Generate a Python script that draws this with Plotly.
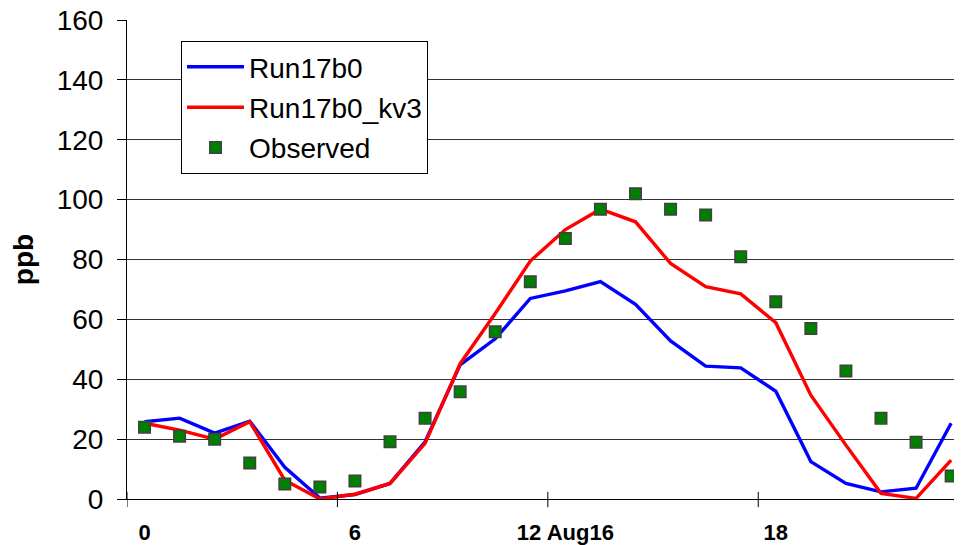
import plotly.graph_objects as go

hours = list(range(24))
run17b0 = [25.8, 27, 22, 26, 10.6, 0.3, 1.5, 5.2, 19.1, 44.8, 53.5, 67, 69.5, 72.6, 65, 52.8,
           44.4, 43.8, 36, 12.5, 5.2, 2.4, 3.6, 25.3]
run17b0_kv3 = [25.3, 23, 20, 25.8, 6.3, 0, 1.6, 5.2, 18.6, 45.2, 62, 79.5, 90, 96.8, 92.6, 78.7,
               70.9, 68.5, 58.9, 34.7, 18, 1.9, 0.2, 13]
observed = [24, 21, 20, 12, 5, 4, 6, 19.1, 27, 35.8, 55.9, 72.6, 87, 96.8, 102, 96.8,
            94.9, 80.9, 65.9, 57, 42.8, 27, 19, 7.7]
tick_vals = [0, 6, 12, 18]
tick_text = ["0", "6", "12 Aug16", "18"]
y_ticks = [0, 20, 40, 60, 80, 100, 120, 140, 160]

fig = go.Figure()
fig.add_trace(go.Scatter(x=hours, y=run17b0, mode="lines", name="Run17b0",
                         line=dict(color="#0000ff", width=3.4), legendgroup="a"))
fig.add_trace(go.Scatter(x=hours, y=run17b0_kv3, mode="lines", name="Run17b0_kv3",
                         line=dict(color="#ff0000", width=3.4), legendgroup="b"))
fig.add_trace(go.Scatter(x=hours, y=observed, mode="markers", name="Observed",
                         marker=dict(symbol="square", size=11.5, color="#008000",
                                     line=dict(color="#404040", width=1.5)),
                         legendgroup="c"))

# category-boundary tick marks crossing the x axis
for t in [-0.5] + [v - 0.5 for v in tick_vals[1:]]:
    fig.add_shape(type="line", xref="x", yref="y domain", x0=t, x1=t, y0=-0.017, y1=0.015,
                  line=dict(color="#000000", width=1))

# page body has an 8px margin, so the figure is sized/offset to fit the 962x545 window
fig.update_layout(
    width=954, height=537,
    margin=dict(l=119, r=0, t=12, b=46),
    paper_bgcolor="white", plot_bgcolor="white",
    font=dict(family="Liberation Sans, Arial, sans-serif", color="#000000"),
    showlegend=True,
    legend=dict(x=0.0647, y=0.956, xanchor="left", yanchor="top",
                bgcolor="white", bordercolor="#000000", borderwidth=1,
                font=dict(size=28), traceorder="grouped", tracegroupgap=1,
                itemwidth=57),
)
fig.update_xaxes(range=[-0.5, 23.31], tickvals=tick_vals, ticktext=tick_text, ticks="",
                 showgrid=False, zeroline=False, showline=True, linecolor="#000000", linewidth=1,
                 tickfont=dict(size=22, family="Liberation Sans, Arial, sans-serif", weight="bold"),
                 ticklabelstandoff=14, automargin=False, ticklabeloverflow="allow")
fig.update_yaxes(range=[0, 160.02], tickvals=y_ticks, ticks="outside", ticklen=9,
                 tickcolor="#000000", showgrid=True, gridcolor="#333333", gridwidth=1,
                 zeroline=False, showline=True, linecolor="#000000", linewidth=1,
                 tickfont=dict(size=28), ticklabelstandoff=8, automargin=False,
                 ticklabeloverflow="allow",
                 title=dict(text="<b>ppb</b>", font=dict(size=28), standoff=16))

fig.write_html("out.html")
